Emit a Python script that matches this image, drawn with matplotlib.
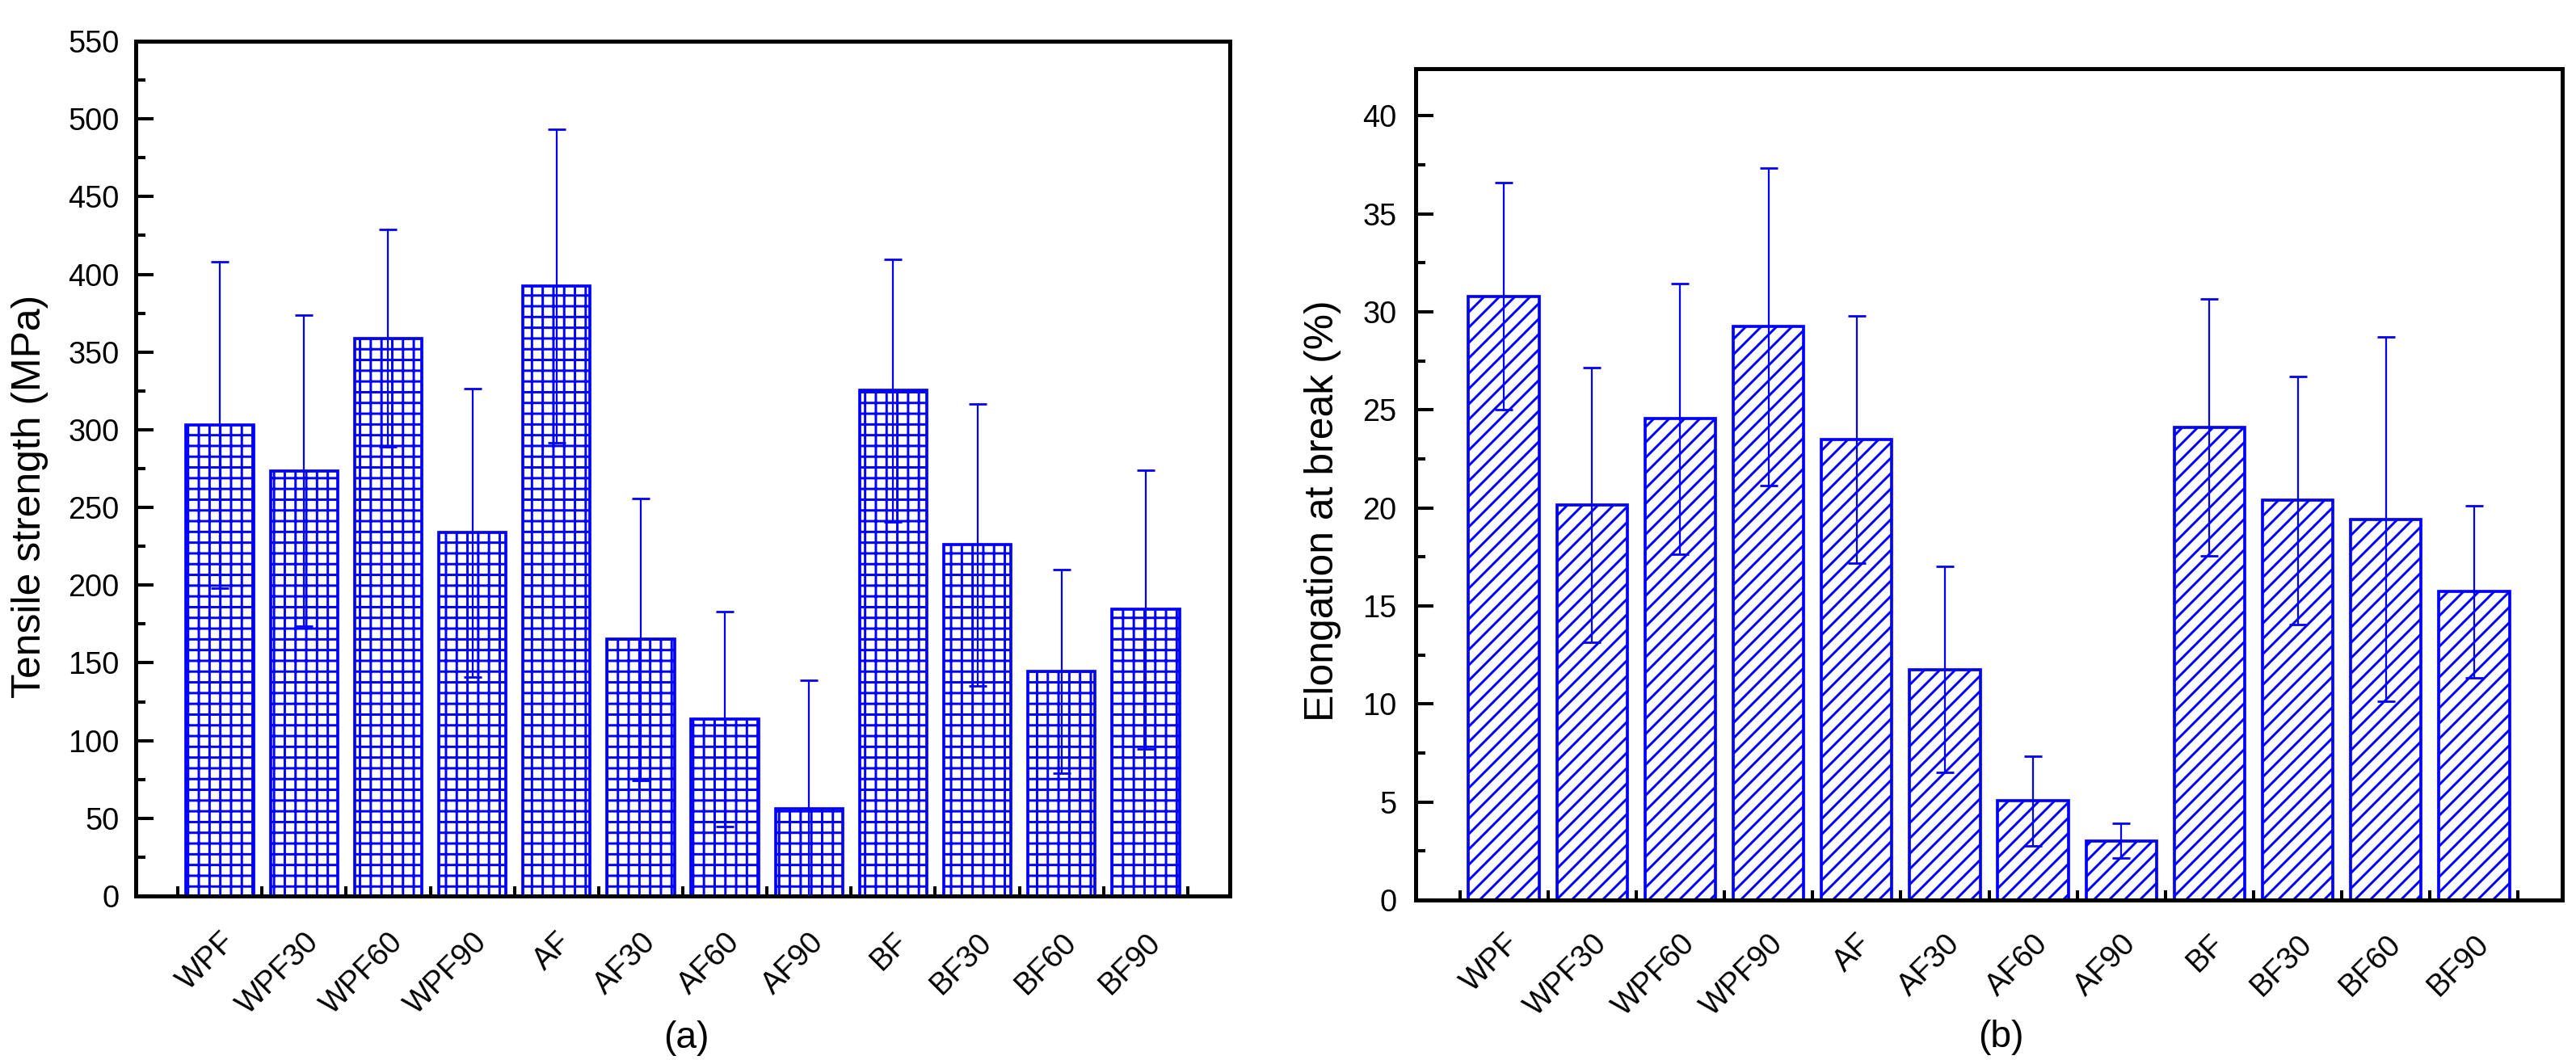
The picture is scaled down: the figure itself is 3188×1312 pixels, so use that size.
import numpy as np
import matplotlib
matplotlib.use('Agg')
import matplotlib.pyplot as plt
import matplotlib.hatch as mhatch
from matplotlib.ticker import MultipleLocator, FixedLocator

# ---------------- data ----------------
categories = ['WPF', 'WPF30', 'WPF60', 'WPF90', 'AF', 'AF30', 'AF60', 'AF90',
              'BF', 'BF30', 'BF60', 'BF90']
tensile_strength = [303.0, 273.7, 358.8, 233.7, 392.4, 165.1, 113.8, 56.1,
                    325.2, 225.9, 144.4, 184.3]
tensile_err = [105.0, 100.0, 70.0, 93.0, 101.0, 90.6, 69.3, 82.5,
               84.3, 90.6, 65.5, 89.9]
elongation = [30.8, 20.15, 24.55, 29.25, 23.5, 11.75, 5.05, 3.02,
              24.1, 20.38, 19.42, 15.72]
elongation_err = [5.8, 7.0, 6.9, 8.1, 6.3, 5.25, 2.3, 0.88,
                  6.55, 6.33, 9.3, 4.37]
ylabels = ['Tensile strength (MPa)', 'Elongation at break (%)']
panel_labels = ['(a)', '(b)']

# ---------------- hatch densities (Origin-like spacing) ----------------
GRID_LINES_PER_TILE = 10
DIAG_LINES_PER_TILE = 14


class GridHorizontal(mhatch.HorizontalHatch):
    def __init__(self, hatch, density):
        self.num_lines = (hatch.count('-') + hatch.count('+')) * GRID_LINES_PER_TILE
        self.num_vertices = self.num_lines * 2


class GridVertical(mhatch.VerticalHatch):
    def __init__(self, hatch, density):
        self.num_lines = (hatch.count('|') + hatch.count('+')) * GRID_LINES_PER_TILE
        self.num_vertices = self.num_lines * 2


class SparseNorthEast(mhatch.NorthEastHatch):
    def __init__(self, hatch, density):
        self.num_lines = (hatch.count('/') + hatch.count('x') + hatch.count('X')) * DIAG_LINES_PER_TILE
        self.num_vertices = (self.num_lines + 1) * 2 if self.num_lines else 0


mhatch._hatch_types = [GridHorizontal, GridVertical, SparseNorthEast] + [
    t for t in mhatch._hatch_types
    if t not in (mhatch.HorizontalHatch, mhatch.VerticalHatch, mhatch.NorthEastHatch)]

# ---------------- style ----------------
DPI = 133
W, H = 3188, 1312
plt.rcParams['font.family'] = ['Liberation Sans', 'DejaVu Sans']
plt.rcParams['hatch.linewidth'] = 1.6
plt.rcParams['hatch.color'] = 'blue'

BLUE = '#0000FF'
fig = plt.figure(figsize=(W / DPI, H / DPI), dpi=DPI)
axL = fig.add_axes([168 / W, (H - 1109) / H, 1354 / W, 1058 / H])
axR = fig.add_axes([1752 / W, (H - 1114) / H, 1419 / W, 1029 / H])

x = np.arange(len(categories))


def draw(ax, vals, errs, hatch, ylim, major, minor, ypad, xpad):
    ax.bar(x, vals, width=0.8, facecolor='white', edgecolor=BLUE, hatch=hatch,
           linewidth=2.0, zorder=2)
    ax.errorbar(x, vals, yerr=errs, fmt='none', ecolor=BLUE, elinewidth=1.2,
                capsize=5.9, capthick=1.5, zorder=3)
    ax.set_xlim(-1, len(categories))
    ax.set_ylim(*ylim)
    ax.set_xticks(x)
    ax.set_xticklabels(categories, rotation=45, ha='right', va='top',
                       rotation_mode='anchor')
    ax.xaxis.set_minor_locator(FixedLocator(np.arange(-0.5, len(categories), 1.0)))
    ax.yaxis.set_major_locator(MultipleLocator(major))
    ax.yaxis.set_minor_locator(MultipleLocator(minor))
    ax.tick_params(which='both', direction='in', top=False, right=False,
                   width=2.2, labelsize=20.5)
    ax.tick_params(which='major', length=11.9)
    ax.tick_params(which='minor', length=6.3)
    ax.tick_params(axis='y', pad=ypad)
    ax.tick_params(axis='x', pad=xpad)
    for s in ax.spines.values():
        s.set_linewidth(2.7)


draw(axL, tensile_strength, tensile_err, '+', (0, 550), 50, 25, 11, 21)
draw(axR, elongation, elongation_err, '/', (0, 42.4), 5, 2.5, 12.8, 19.5)

fig.text(37 / W, 1 - 614 / H, ylabels[0], rotation=90, ha='center', va='center',
         fontsize=27)
fig.text(1637 / W, 1 - 632 / H, ylabels[1], rotation=90, ha='center', va='center',
         fontsize=27)
fig.text(849 / W, 1 - 1285 / H, panel_labels[0], ha='center', va='center', fontsize=25)
fig.text(2476 / W, 1 - 1284 / H, panel_labels[1], ha='center', va='center', fontsize=25)

fig.savefig('out.png', dpi=DPI)
